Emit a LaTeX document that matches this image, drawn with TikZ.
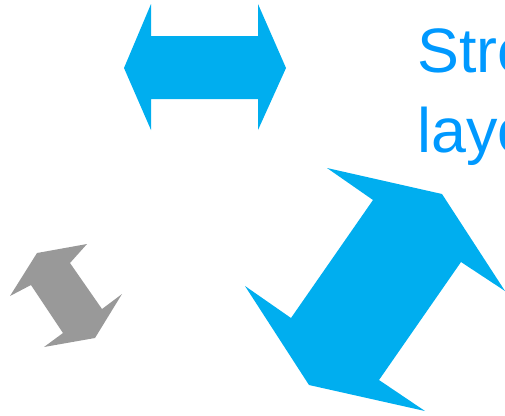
\documentclass[tikz,border=0pt]{standalone}
\usepackage{fontspec}
\setmainfont{Liberation Sans}
\definecolor{arrowblue}{HTML}{00AEEF}
\definecolor{titleblue}{HTML}{0099FF}
\definecolor{arrowgray}{HTML}{999999}
\begin{document}
\begin{tikzpicture}[x=1bp,y=-1bp,every node/.style={inner sep=0pt,text=titleblue,font=\fontsize{63}{80}\selectfont}]
\useasboundingbox (0,0) rectangle (505,415);
\clip (0,0) rectangle (505,415);
% top arrow
\fill[arrowblue] (124,68) -- (151,4) -- (151,36) -- (258,36) -- (258,4) -- (286,68)
  -- (258,130) -- (258,99) -- (151,99) -- (151,130) -- cycle;
% big arrow
\fill[arrowblue] (327,168) -- (442,194) -- (505,291) -- (461,262) -- (379,380) -- (425,411)
  -- (309,385) -- (245,286) -- (291,318) -- (373,200) -- cycle;
% small arrow
\fill[arrowgray] (37,253) -- (87,244) -- (70,263) -- (102,309) -- (122,294) -- (95,338)
  -- (44,347) -- (63,333) -- (31,285) -- (10,296) -- cycle;
% title
\node[anchor=base west] (line1) at (417,72.7) {Stre};
\node[anchor=base west] (line2) at (417,152.7) {layo};
\end{tikzpicture}
\end{document}
